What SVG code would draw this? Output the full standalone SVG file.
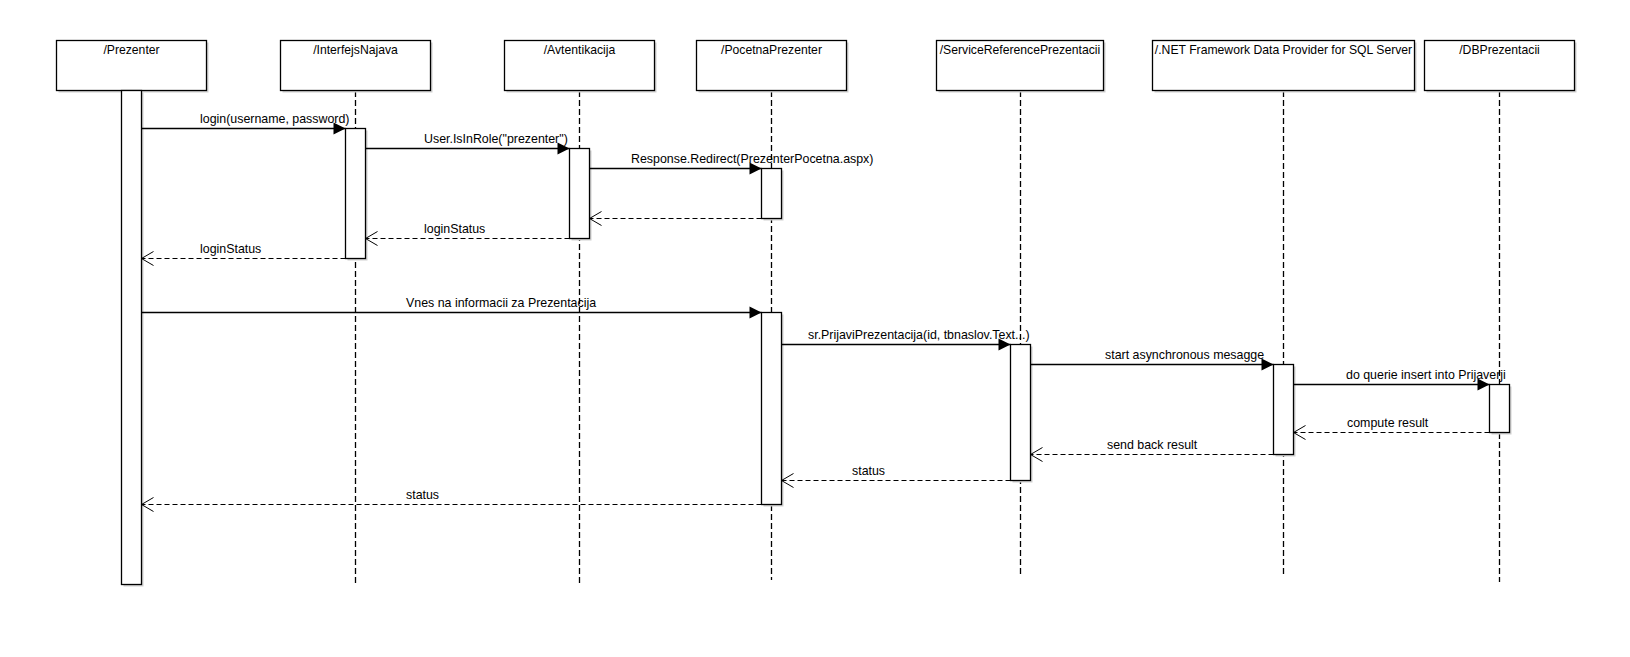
<svg xmlns="http://www.w3.org/2000/svg" width="1630" height="657" viewBox="0 0 1630 657">
<style>
.bg{fill:#ffffff}
.box{fill:#ffffff;stroke:#000000;stroke-width:1.3}
.sh{fill:#d0d0d0}
.act{fill:#ffffff;stroke:#000000;stroke-width:1.3}
.life{stroke:#000000;stroke-width:1.3;stroke-dasharray:6,3;fill:none}
.msg{stroke:#000000;stroke-width:1.3;fill:none;marker-end:url(#filled)}
.ret{stroke:#000000;stroke-width:1.1;fill:none;stroke-dasharray:5,3;marker-end:url(#open)}
.hd{font-family:"Liberation Sans",Arial,sans-serif;font-size:12.2px;fill:#000000;text-anchor:middle}
.lb{font-family:"Liberation Sans",Arial,sans-serif;font-size:12.4px;fill:#000000}
</style>
<defs>
<marker id="filled" markerUnits="userSpaceOnUse" markerWidth="13" markerHeight="13" refX="12" refY="6" orient="auto" overflow="visible">
<path d="M0,0 L12,6 L0,12 z" fill="#000000"/>
</marker>
<marker id="open" markerUnits="userSpaceOnUse" markerWidth="14" markerHeight="16" refX="12" refY="7" orient="auto" overflow="visible">
<path d="M0,0 L12,7 L0,14" fill="none" stroke="#000000" stroke-width="1"/>
</marker>
</defs>
<rect class="bg" x="0" y="0" width="1630" height="657"/>

<g id="lifelines">
<line class="life" x1="355.5" y1="91" x2="355.5" y2="584"/>
<line class="life" x1="579.5" y1="91" x2="579.5" y2="583"/>
<line class="life" x1="771.5" y1="91" x2="771.5" y2="580"/>
<line class="life" x1="1020.5" y1="91" x2="1020.5" y2="575"/>
<line class="life" x1="1283.5" y1="91" x2="1283.5" y2="575"/>
<line class="life" x1="1499.5" y1="91" x2="1499.5" y2="582"/>
</g>

<g id="node-prezenter">
<rect class="sh" x="58.5" y="42.5" width="150" height="50"/>
<rect class="box" x="56.5" y="40.5" width="150" height="50"/>
<text class="hd" x="131.5" y="54">/Prezenter</text>
<rect class="sh" x="123.5" y="92.5" width="20" height="494"/>
<rect class="act" x="121.5" y="90.5" width="20" height="494"/>
</g>

<g id="node-interfejsnajava">
<rect class="sh" x="282.5" y="42.5" width="150" height="50"/>
<rect class="box" x="280.5" y="40.5" width="150" height="50"/>
<text class="hd" x="355.5" y="54">/InterfejsNajava</text>
<rect class="sh" x="347.5" y="130.5" width="20" height="130"/>
<rect class="act" x="345.5" y="128.5" width="20" height="130"/>
</g>

<g id="node-avtentikacija">
<rect class="sh" x="506.5" y="42.5" width="150" height="50"/>
<rect class="box" x="504.5" y="40.5" width="150" height="50"/>
<text class="hd" x="579.5" y="54">/Avtentikacija</text>
<rect class="sh" x="571.5" y="150.5" width="20" height="90"/>
<rect class="act" x="569.5" y="148.5" width="20" height="90"/>
</g>

<g id="node-pocetnaprezenter">
<rect class="sh" x="698.5" y="42.5" width="150" height="50"/>
<rect class="box" x="696.5" y="40.5" width="150" height="50"/>
<text class="hd" x="771.5" y="54">/PocetnaPrezenter</text>
<rect class="sh" x="763.5" y="170.5" width="20" height="50"/>
<rect class="act" x="761.5" y="168.5" width="20" height="50"/>
<rect class="sh" x="763.5" y="314.5" width="20" height="192"/>
<rect class="act" x="761.5" y="312.5" width="20" height="192"/>
</g>

<g id="node-servicereference">
<rect class="sh" x="938.5" y="42.5" width="167" height="50"/>
<rect class="box" x="936.5" y="40.5" width="167" height="50"/>
<text class="hd" x="1020" y="54">/ServiceReferencePrezentacii</text>
<rect class="sh" x="1012.5" y="346.5" width="20" height="136"/>
<rect class="act" x="1010.5" y="344.5" width="20" height="136"/>
</g>

<g id="node-dataprovider">
<rect class="sh" x="1154.5" y="42.5" width="262" height="50"/>
<rect class="box" x="1152.5" y="40.5" width="262" height="50"/>
<text class="hd" x="1283.5" y="54">/.NET Framework Data Provider for SQL Server</text>
<rect class="sh" x="1275.5" y="366.5" width="20" height="90"/>
<rect class="act" x="1273.5" y="364.5" width="20" height="90"/>
</g>

<g id="node-dbprezentacii">
<rect class="sh" x="1426.5" y="42.5" width="150" height="50"/>
<rect class="box" x="1424.5" y="40.5" width="150" height="50"/>
<text class="hd" x="1499.5" y="54">/DBPrezentacii</text>
<rect class="sh" x="1491.5" y="386.5" width="20" height="48"/>
<rect class="act" x="1489.5" y="384.5" width="20" height="48"/>
</g>

<g id="connectors">
<line class="msg" x1="141.5" y1="128.5" x2="345.5" y2="128.5"/>
<text class="lb" x="200" y="123">login(username, password)</text>
<line class="msg" x1="365.5" y1="148.5" x2="569.5" y2="148.5"/>
<text class="lb" x="424" y="143">User.IsInRole("prezenter")</text>
<line class="msg" x1="589.5" y1="168.5" x2="761.5" y2="168.5"/>
<text class="lb" x="631" y="163">Response.Redirect(PrezenterPocetna.aspx)</text>
<line class="ret" x1="761.5" y1="218.5" x2="589.5" y2="218.5"/>
<line class="ret" x1="569.5" y1="238.5" x2="365.5" y2="238.5"/>
<text class="lb" x="424" y="233">loginStatus</text>
<line class="ret" x1="345.5" y1="258.5" x2="141.5" y2="258.5"/>
<text class="lb" x="200" y="253">loginStatus</text>
<line class="msg" x1="141.5" y1="312.5" x2="761.5" y2="312.5"/>
<text class="lb" x="406" y="307">Vnes na informacii za Prezentacija</text>
<line class="msg" x1="781.5" y1="344.5" x2="1010.5" y2="344.5"/>
<text class="lb" x="808" y="339">sr.PrijaviPrezentacija(id, tbnaslov.Text...)</text>
<line class="msg" x1="1030.5" y1="364.5" x2="1273.5" y2="364.5"/>
<text class="lb" x="1105" y="359">start asynchronous mesagge</text>
<line class="msg" x1="1293.5" y1="384.5" x2="1489.5" y2="384.5"/>
<text class="lb" x="1346" y="379">do querie insert into Prijaverji</text>
<line class="ret" x1="1489.5" y1="432.5" x2="1293.5" y2="432.5"/>
<text class="lb" x="1347" y="427">compute result</text>
<line class="ret" x1="1273.5" y1="454.5" x2="1030.5" y2="454.5"/>
<text class="lb" x="1107" y="449">send back result</text>
<line class="ret" x1="1010.5" y1="480.5" x2="781.5" y2="480.5"/>
<text class="lb" x="852" y="475">status</text>
<line class="ret" x1="761.5" y1="504.5" x2="141.5" y2="504.5"/>
<text class="lb" x="406" y="499">status</text>
</g>
</svg>
